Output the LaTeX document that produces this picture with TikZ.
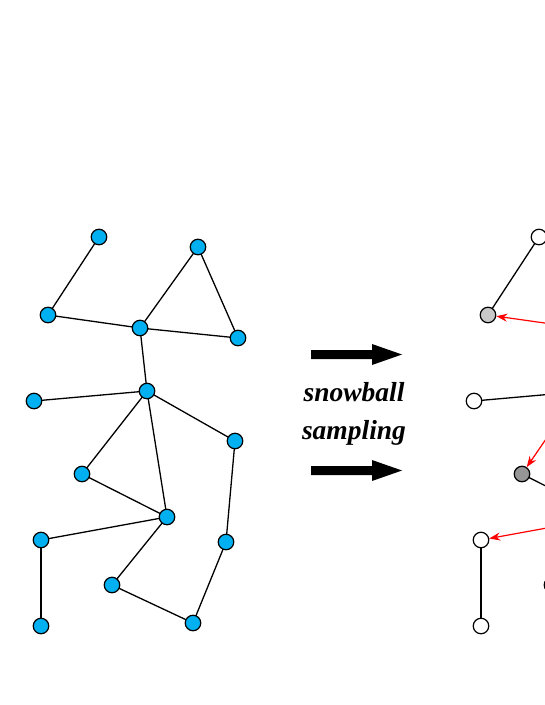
\documentclass[tikz,border=0pt]{standalone}
\usepackage{fontspec}
\setmainfont{Liberation Serif}
\usetikzlibrary{arrows.meta}
\definecolor{nodecyan}{RGB}{0,176,240}
\definecolor{lightgr}{RGB}{200,200,200}
\definecolor{darkgr}{RGB}{150,150,150}
\tikzset{
  vtx/.style={circle, draw=black, line width=1.2pt, minimum size=15.5pt, inner sep=0pt},
  bluev/.style={vtx, fill=nodecyan},
  whitev/.style={vtx, fill=white},
  edge/.style={line width=1.3pt, black},
  redarr/.style={line width=1.2pt, red, -{Stealth[length=11pt,width=8pt]}},
  bigarrow/.style={fill=black, draw=none},
  lbl/.style={font=\fontsize{27.5}{32}\selectfont\bfseries\itshape, inner sep=0pt}
}
\begin{document}
\begin{tikzpicture}[x=1pt,y=-1pt]
\useasboundingbox (0,0) rectangle (545,705);
\clip (0,0) rectangle (545,705);
% left graph nodes
\foreach \n/\px/\py in {A/99/237,B/198/247,C/48/315,D/140/328,E/238/338,F/34/401,G/147/391,H/235/441,I/82/474,J/167/517,K/41/540,L/226/542,M/112/585,N/193/623,O/41/626}{
  \coordinate (p\n) at (\px,\py);
}
% left edges (drawn first)
\foreach \a/\b in {A/C,C/D,D/B,B/E,D/E,D/G,G/F,G/I,G/J,I/J,G/H,H/L,L/N,N/M,M/J,J/K,K/O}{
  \draw[edge] (p\a) -- (p\b);
}
\foreach \n in {A,B,C,D,E,F,G,H,I,J,K,L,M,N,O}{
  \node[bluev] (l\n) at (p\n) {};
}
% right graph (shifted copy, partly outside)
\begin{scope}[xshift=440]
\foreach \n/\px/\py in {A/99/237,B/198/247,C/48/315,D/140/328,E/238/338,F/34/401,G/147/391,H/235/441,I/82/474,J/167/517,K/41/540,L/226/542,M/112/585,N/193/623,O/41/626}{
  \coordinate (q\n) at (\px,\py);
}
\foreach \a/\b in {A/C,D/B,B/E,D/E,D/G,G/F,I/J,G/J,G/H,H/L,L/N,N/M,M/J,K/O}{
  \draw[edge] (q\a) -- (q\b);
}
\node[whitev] (rA) at (qA) {};
\node[vtx, fill=lightgr] (rC) at (qC) {};
\node[whitev] (rF) at (qF) {};
\node[vtx, fill=darkgr] (rI) at (qI) {};
\node[whitev] (rK) at (qK) {};
\node[whitev] (rO) at (qO) {};
\node[whitev] (rM) at (qM) {};
\node[whitev] (rD) at (qD) {};
\node[whitev] (rG) at (qG) {};
\node[whitev] (rJ) at (qJ) {};
\node[whitev] (rB) at (qB) {};
\node[whitev] (rE) at (qE) {};
\node[whitev] (rH) at (qH) {};
\node[whitev] (rL) at (qL) {};
\node[whitev] (rN) at (qN) {};
\coordinate (gs) at ([xshift=-8]qG);
\end{scope}
\draw[redarr] (rD) -- (rC);
\draw[redarr, shorten <=8pt] (gs) -- (rI);
\draw[redarr] (rJ) -- (rK);
% big arrows
\fill[bigarrow] (311,350) -- (372,350) -- (372,344) -- (402,354.5) -- (372,365) -- (372,359) -- (311,359) -- cycle;
\fill[bigarrow] (311,466) -- (372,466) -- (372,460) -- (402,470.5) -- (372,481) -- (372,475) -- (311,475) -- cycle;
\node[lbl, anchor=base] (t1) at (354,401.5) {snowball};
\node[lbl, anchor=base] (t2) at (354,439) {sampling};
\end{tikzpicture}
\end{document}
